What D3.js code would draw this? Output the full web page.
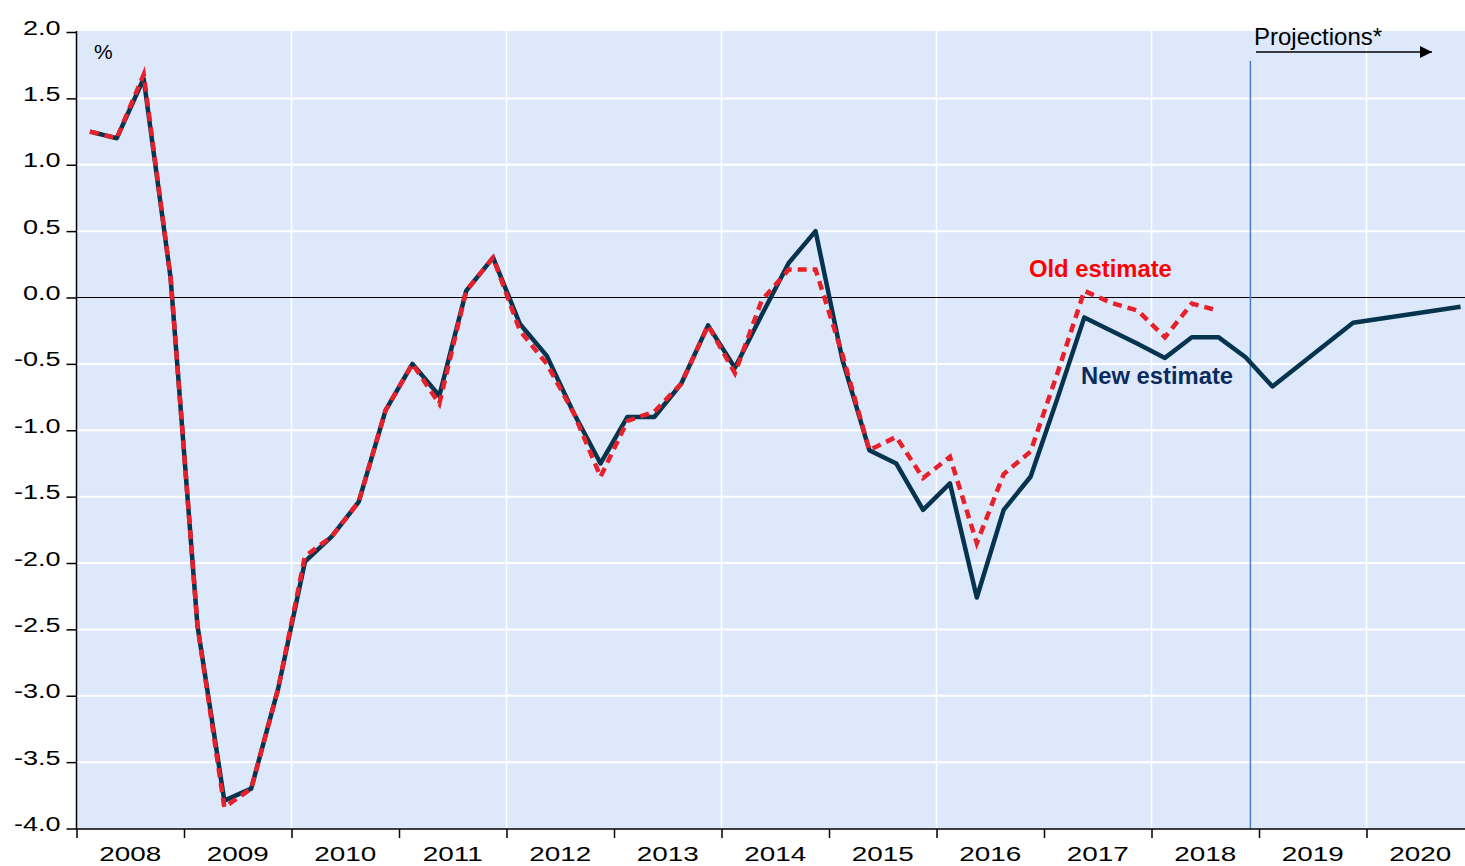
<!DOCTYPE html>
<html>
<head>
<meta charset="utf-8">
<script src="https://cdn.jsdelivr.net/npm/d3@7"></script>
<style>
  html, body { margin: 0; padding: 0; background: #ffffff; }
  svg { display: block; }
  text { font-family: "Liberation Sans", Arial, sans-serif; }
</style>
</head>
<body>
<svg id="chart" width="1465" height="866"></svg>
<script>
// ---- data ----
const years = [2008, 2009, 2010, 2011, 2012, 2013, 2014, 2015, 2016, 2017, 2018, 2019, 2020];
const quarters = ["Q1", "Q2", "Q3", "Q4"];
const yTicks = [2.0, 1.5, 1.0, 0.5, 0.0, -0.5, -1.0, -1.5, -2.0, -2.5, -3.0, -3.5, -4.0];
const gridYears = [2010, 2012, 2014, 2016, 2018, 2020];

// New estimate, quarterly 2008Q1 - 2020Q4 (projections from 2019)
const newEstimate = [
  1.25, 1.20, 1.65, 0.15,
  -2.47, -3.79, -3.70, -2.95,
  -1.99, -1.80, -1.54, -0.85,
  -0.50, -0.74, 0.05, 0.30,
  -0.20, -0.44, -0.87, -1.25,
  -0.90, -0.90, -0.65, -0.21,
  -0.53, -0.13, 0.26, 0.50,
  -0.47, -1.15, -1.25, -1.60,
  -1.40, -2.26, -1.60, -1.35,
  -0.76, -0.15, -0.25, -0.35,
  -0.455, -0.30, -0.30, -0.45,
  -0.67, -0.51, -0.35, -0.19,
  -0.16, -0.13, -0.10, -0.07
];

// Old estimate, quarterly 2008Q1 - 2018Q3
const oldEstimate = [
  1.25, 1.20, 1.68, 0.15,
  -2.47, -3.84, -3.70, -2.95,
  -1.95, -1.80, -1.54, -0.85,
  -0.50, -0.80, 0.05, 0.30,
  -0.25, -0.50, -0.87, -1.35,
  -0.93, -0.86, -0.65, -0.21,
  -0.57, -0.02, 0.21, 0.21,
  -0.43, -1.15, -1.05, -1.36,
  -1.20, -1.85, -1.33, -1.16,
  -0.57, 0.05, -0.04, -0.10,
  -0.30, -0.045, -0.10
];

const projectionStart = 2018.92;
const labels = { unit: "%", projections: "Projections*", old: "Old estimate", new: "New estimate" };

// ---- layout ----
const svg = d3.select("#chart");
const plotLeft = 76.5, plotTop = 31, plotBottom = 829, plotRight = 1465;

const x = d3.scaleLinear().domain([2008, 2021]).range([plotLeft, plotLeft + 13 * 107.5]);
const y = d3.scaleLinear().domain([-4, 2]).range([828.5, 32]);

// quarter time value
const qTime = (i) => 2008 + Math.floor(i / 4) + ((i % 4) + 0.5) / 4;
const fmt = (d) => d.toFixed(1);

// background
svg.append("rect")
  .attr("x", plotLeft).attr("y", plotTop)
  .attr("width", plotRight - plotLeft).attr("height", plotBottom - plotTop)
  .attr("fill", "#dde9fb");

// horizontal gridlines
svg.append("g").selectAll("line")
  .data(yTicks.filter(v => v !== 0 && v !== 2 && v !== -4))
  .join("line")
  .attr("x1", plotLeft).attr("x2", plotRight)
  .attr("y1", d => y(d)).attr("y2", d => y(d))
  .attr("stroke", "#ffffff").attr("stroke-width", 2);

// vertical gridlines
svg.append("g").selectAll("line")
  .data(gridYears)
  .join("line")
  .attr("x1", d => x(d)).attr("x2", d => x(d))
  .attr("y1", plotTop).attr("y2", plotBottom)
  .attr("stroke", "#ffffff").attr("stroke-width", 1.5);

// zero line
svg.append("line")
  .attr("x1", plotLeft).attr("x2", plotRight)
  .attr("y1", y(0)).attr("y2", y(0))
  .attr("stroke", "#000000").attr("stroke-width", 1);

// projection separator
svg.append("line")
  .attr("x1", x(projectionStart)).attr("x2", x(projectionStart))
  .attr("y1", 61).attr("y2", plotBottom)
  .attr("stroke", "#4a7fc4").attr("stroke-width", 1.5);

// y axis
const yAxis = d3.axisLeft(y).tickValues(yTicks).tickSize(10).tickFormat(fmt);
const gy = svg.append("g").attr("transform", `translate(${plotLeft},0)`).call(yAxis);
gy.select(".domain").attr("stroke", "#000").attr("stroke-width", 1.5)
  .attr("d", `M0,${plotTop}V${plotBottom}`);
gy.selectAll(".tick line").attr("stroke", "#000").attr("stroke-width", 1.5);
gy.selectAll(".tick text").remove();
gy.selectAll(".tick").append("text")
  .attr("transform", "translate(-16,2) scale(1.32,1)")
  .attr("text-anchor", "end")
  .attr("fill", "#000")
  .attr("font-size", "20.5px")
  .text(d => fmt(d));

// x axis
const xAxis = d3.axisBottom(x).tickValues(years).tickSize(9).tickFormat("");
const gx = svg.append("g").attr("transform", `translate(0,${plotBottom})`).call(xAxis);
gx.select(".domain").attr("stroke", "#000").attr("stroke-width", 1.5)
  .attr("d", `M${plotLeft},0H${plotRight}`);
gx.selectAll(".tick line").attr("stroke", "#000").attr("stroke-width", 1.5);
gx.selectAll(".tick text").remove();
svg.append("g").selectAll("text")
  .data(years)
  .join("text")
  .attr("transform", d => `translate(${x(d + 0.5)},${plotBottom + 32}) scale(1.36,1)`)
  .attr("text-anchor", "middle")
  .attr("fill", "#000")
  .attr("font-size", "20.5px")
  .text(d => d);

// lines
const line = d3.line().x((d, i) => x(qTime(i))).y(d => y(d));

svg.append("path")
  .attr("d", line(newEstimate))
  .attr("fill", "none")
  .attr("stroke", "#06344f")
  .attr("stroke-width", 4.5)
  .attr("stroke-linejoin", "round");

svg.append("path")
  .attr("d", line(oldEstimate))
  .attr("fill", "none")
  .attr("stroke", "#e8202a")
  .attr("stroke-width", 4.5)
  .attr("stroke-dasharray", "9 6");

// labels
svg.append("text")
  .attr("x", 94).attr("y", 59)
  .attr("font-size", "21px").attr("fill", "#000")
  .text(labels.unit);

svg.append("text")
  .attr("x", 1029).attr("y", 277)
  .attr("font-size", "23.8px").attr("font-weight", "bold").attr("fill", "#ff0000")
  .text(labels.old);

svg.append("text")
  .attr("x", 1081).attr("y", 384)
  .attr("font-size", "23.8px").attr("font-weight", "bold").attr("fill", "#0b2a5e")
  .text(labels.new);

svg.append("text")
  .attr("x", 1254).attr("y", 44.5)
  .attr("font-size", "24px").attr("fill", "#000")
  .text(labels.projections);

// arrow
svg.append("defs").append("marker")
  .attr("id", "arrowhead")
  .attr("viewBox", "0 0 12 12")
  .attr("refX", 12).attr("refY", 6)
  .attr("markerWidth", 12).attr("markerHeight", 12)
  .attr("markerUnits", "userSpaceOnUse")
  .attr("orient", "auto")
  .append("path").attr("d", "M0,0L12,6L0,12Z").attr("fill", "#000");

svg.append("line")
  .attr("x1", 1256).attr("x2", 1432)
  .attr("y1", 52).attr("y2", 52)
  .attr("stroke", "#000").attr("stroke-width", 1.5)
  .attr("marker-end", "url(#arrowhead)");
</script>
</body>
</html>
